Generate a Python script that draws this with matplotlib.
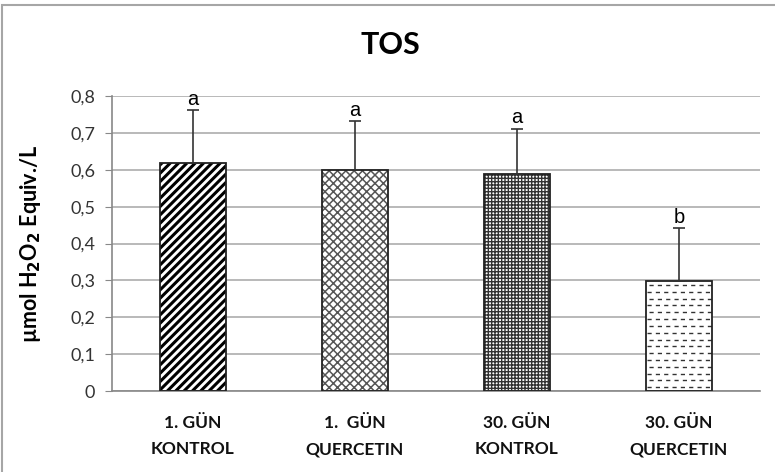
import matplotlib
matplotlib.use('Agg')
import matplotlib.pyplot as plt
from matplotlib.patches import Rectangle
from matplotlib.ticker import FuncFormatter

plt.rcParams['font.family'] = ['Lato', 'DejaVu Sans']

GROUPS = ['1. GÜN\nKONTROL', '1.  GÜN\nQUERCETIN', '30. GÜN\nKONTROL', '30. GÜN\nQUERCETIN']
MEANS = [0.618, 0.599, 0.588, 0.298]
ERRORS = [0.144, 0.132, 0.123, 0.143]
LETTERS = ['a', 'a', 'a', 'b']
HATCHES = ['////', 'xxxx', '+++++', '']
HATCH_COLORS = ['black', '#555555', '#333333', 'black']
HATCH_WIDTHS = [2.2, 1.1, 1.0, 1.0]

fig = plt.figure(figsize=(7.75, 4.72), dpi=100)
fig.patch.set_facecolor('white')

# thin gray frame around the chart area
frame = Rectangle((0.003, -0.05), 1.2, 1.05 - 5 / 472, transform=fig.transFigure,
                  fill=False, edgecolor='#a6a6a6', linewidth=1.5)
fig.patches.append(frame)

ax = fig.add_axes([112 / 775, 1 - 391 / 472, 648 / 775, 295 / 472])
x = list(range(len(GROUPS)))
width = 0.41

# hatch fill first, then a crisp black outline on top
for xi, m, h, hc, hw in zip(x, MEANS, HATCHES, HATCH_COLORS, HATCH_WIDTHS):
    with plt.rc_context({'hatch.linewidth': hw}):
        ax.bar(xi, m, width, color='white', edgecolor=hc, hatch=h, linewidth=0, zorder=2)
bars = ax.bar(x, MEANS, width, fill=False, edgecolor='#222222', linewidth=1.3, zorder=3)

# dashed fill for the last bar
last = bars[-1]
x0, x1 = last.get_x(), last.get_x() + last.get_width()
levels = [i * 0.0185 + 0.01 for i in range(int(MEANS[-1] / 0.0185))]
for k, lv in enumerate(levels):
    off = 0.012 if k % 2 else 0.0
    segs = ax.hlines(lv, x0 + 0.005 + off, x1, colors='#333333', linewidth=1.0,
                     linestyles=(0, (3, 3)), zorder=2)
    segs.set_clip_path(last)

ax.errorbar(x, MEANS, yerr=[[0] * len(MEANS), ERRORS], fmt='none', ecolor='#333333',
            elinewidth=1.2, capsize=4, capthick=1.2, zorder=4)

for xi, m, e, lt in zip(x, MEANS, ERRORS, LETTERS):
    ax.text(xi, m + e + 0.004, lt, ha='center', va='bottom', fontsize=14.5,
            family=['Liberation Sans', 'DejaVu Sans'], color='black')

ax.set_xlim(-0.5, len(GROUPS) - 0.5)
ax.set_ylim(0, 0.8)
ax.set_yticks([i / 10 for i in range(9)])
ax.yaxis.set_major_formatter(FuncFormatter(lambda v, p: '0' if v == 0 else f'{v:.1f}'.replace('.', ',')))
ax.yaxis.grid(True, color='#b3b3b3', linewidth=1.3)
ax.set_axisbelow(True)

ax.set_xticks(x)
ax.set_xticklabels(GROUPS, fontsize=12.5, fontweight='bold', linespacing=1.8,
                   color='#111111')
ax.tick_params(axis='x', length=0, pad=17)
ax.tick_params(axis='y', length=5, color='#888888', labelsize=13, pad=7, labelcolor='#333333')

for s in ['top', 'right']:
    ax.spines[s].set_visible(False)
ax.spines['left'].set_color('#888888')
ax.spines['bottom'].set_color('#888888')
ax.spines['left'].set_linewidth(1.2)
ax.spines['bottom'].set_linewidth(1.2)

ax.set_ylabel(r'µmol H$_\mathbf{2}$O$_\mathbf{2}$ Equiv./L', fontsize=15.5, fontweight='bold')
ax.yaxis.set_label_coords(-0.107, 0.5)

fig.text(390 / 775, 1 - 45 / 472, 'TOS', ha='center', va='center', fontsize=22,
         fontweight='bold')

fig.savefig('out.png', dpi=100)
